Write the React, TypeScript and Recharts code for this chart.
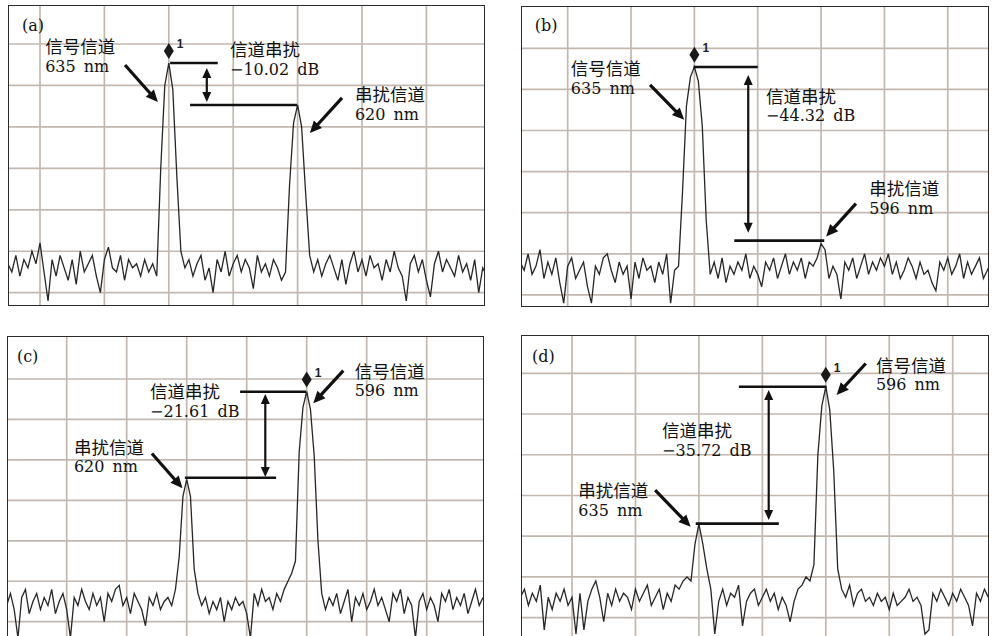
import React from "react";
import {
  LineChart,
  Line,
  XAxis,
  YAxis,
  ReferenceLine,
  ReferenceDot,
} from "recharts";

// x is in screen divisions, y in dB (10 dB / division)
const STEP = 1 / 16;
const gridX = [1, 2, 3, 4, 5, 6, 7];
const gridY = [0, -10, -20, -30, -40, -50, -60];

// (a) signal 635 nm, crosstalk 620 nm
const traceA = [
  -53, -55, -51, -56, -52, -54, -50, -53, -48, -55,
  -62, -52, -56, -51, -54, -57, -52, -58, -50, -55,
  -53, -51, -56, -60, -52, -49, -54, -55, -51, -57,
  -52, -54, -53, -56, -52, -55, -53, -56,
  -30, -10, -4.6, -11, -32,
  -50, -54, -52, -56, -53, -51, -57,
  -54, -60, -52, -55, -50, -56, -53, -51, -55, -52,
  -54, -59, -51, -55, -53, -56, -52, -54, -57, -55,
  -34, -19, -14.7, -20, -36,
  -51, -55, -52, -56, -53,
  -51, -54, -57, -52, -58, -53, -50, -55, -52, -56,
  -51, -54, -53, -57, -52, -55, -50, -54, -56, -62,
  -53, -51, -55, -52, -57, -61, -53, -50, -55, -52,
  -54, -56, -51, -55, -53, -57, -52, -60, -54, -56,
];
const levelsA = [
  { x1: 3.02, x2: 3.76, y: -4.58 },
  { x1: 3.33, x2: 4.99, y: -14.72 },
];
const gapA = { x: 3.59, y1: -5.8, y2: -14.0 };
const arrowsA = [
  { x1: 2.32, y1: -5.07, x2: 2.83, y2: -14.0 },
  { x1: 5.69, y1: -13.0, x2: 5.19, y2: -21.5 },
];
const notesA = [
  { x: 0.72, y: 3.1, lines: ["(a)"] },
  { x: 1.08, y: -2.2, lines: ["信号信道", "635 nm"] },
  { x: 3.95, y: -2.9, lines: ["信道串扰", "−10.02 dB"] },
  { x: 5.89, y: -13.8, lines: ["串扰信道", "620 nm"] },
];

// (b) signal 635 nm, crosstalk 596 nm
const traceB = [
  -52, -54, -50, -55, -53, -49, -56, -52, -55, -51,
  -57, -62, -53, -51, -56, -54, -52, -58, -62, -53,
  -55, -51, -50, -54, -57, -52, -55, -53, -61, -52,
  -56, -51, -54, -53, -57, -52, -55, -50, -62, -54,
  -53, -35, -14, -7, -4.5, -8, -19, -42, -55,
  -52, -56, -51, -57, -53, -55, -52, -54, -50, -56, -53,
  -55, -58, -52, -54, -51, -56, -53, -50, -55, -52,
  -54, -51, -56, -52, -53,
  -51, -47.5, -49, -56,
  -53, -55, -61, -52, -54, -51, -56, -53, -50, -55, -52,
  -54, -51, -53, -50, -55, -52, -56, -54, -51, -53,
  -56, -52, -55, -54, -57, -59, -52, -54, -51, -55,
  -53, -50, -56, -52, -55, -53, -51, -56, -54, -52,
];
const levelsB = [
  { x1: 2.99, x2: 4.0, y: -4.55 },
  { x1: 3.63, x2: 5.05, y: -46.8 },
];
const gapB = { x: 3.85, y1: -6.5, y2: -44.9 };
const arrowsB = [
  { x1: 2.3, y1: -8.9, x2: 2.84, y2: -17.4 },
  { x1: 5.55, y1: -37.8, x2: 5.08, y2: -45.8 },
];
const notesB = [
  { x: 0.48, y: 4.2, lines: ["(b)"] },
  { x: 1.05, y: -6.5, lines: ["信号信道", "635 nm"] },
  { x: 4.13, y: -13.3, lines: ["信道串扰", "−44.32 dB"] },
  { x: 5.76, y: -35.7, lines: ["串扰信道", "596 nm"] },
];

// (c) signal 596 nm, crosstalk 620 nm
const traceC = [
  -56, -53, -57, -64, -54, -52, -58, -55, -53, -57,
  -54, -56, -52, -58, -55, -53, -57, -64, -54, -56,
  -52, -55, -57, -53, -56, -54, -60, -53, -55, -52,
  -51, -56, -54, -58, -53, -55, -57, -61, -54, -56,
  -53, -57, -55, -54, -56,
  -52, -44, -29, -24.8, -29, -47, -53,
  -56, -54, -58, -55, -57, -54, -60, -55,
  -57, -54, -56, -55, -58, -64, -53, -56, -52, -55,
  -54, -57, -53, -55, -52, -50,
  -48, -45, -18, -7, -3.1, -7.5, -19, -40, -53,
  -57, -54, -56, -53, -58,
  -55, -52, -60, -54, -56, -53, -57, -55, -52, -56,
  -54, -57, -60, -53, -55, -52, -58, -54, -56, -64,
  -55, -53, -57, -54, -56, -60, -53, -55, -52, -57,
  -54, -56, -53, -58, -55, -52, -56, -54,
];
const levelsC = [
  { x1: 3.89, x2: 4.99, y: -3.14 },
  { x1: 2.97, x2: 4.49, y: -24.4 },
];
const gapC = { x: 4.31, y1: -3.7, y2: -24.2 };
const arrowsC = [
  { x1: 5.61, y1: 2.05, x2: 5.11, y2: -6.0 },
  { x1: 2.42, y1: -18.4, x2: 2.93, y2: -27.0 },
];
const notesC = [
  { x: 0.17, y: 4.2, lines: ["(c)"] },
  { x: 5.8, y: 0.25, lines: ["信号信道", "596 nm"] },
  { x: 2.39, y: -4.7, lines: ["信道串扰", "−21.61 dB"] },
  { x: 1.12, y: -18.5, lines: ["串扰信道", "620 nm"] },
];

// (d) signal 596 nm, crosstalk 635 nm
const traceD = [
  -55, -53, -57, -54, -56, -52, -63, -55, -58, -54,
  -56, -53, -57, -55, -64, -54, -63, -56, -53, -51,
  -55, -61, -54, -57, -53, -56, -54, -55, -58, -53,
  -56, -54, -52, -57, -55, -53, -58, -54, -56, -52,
  -53, -51, -50,
  -51, -42, -37, -42, -48, -53,
  -64, -56, -53, -57, -54, -55, -52, -62, -56, -54, -53,
  -57, -55, -53, -56, -54, -58, -55, -57, -61, -56,
  -53, -52, -50,
  -51, -47, -20, -8, -3.3, -9, -24, -48, -53,
  -55, -52, -57, -54, -53, -56, -55, -57,
  -54, -56, -55, -58, -54, -57, -56, -55, -53, -56,
  -55, -57, -64, -63, -54, -56, -53, -55, -57, -54,
  -56, -53, -55, -57, -62, -54, -56, -53, -55, -54,
];
const levelsD = [
  { x1: 3.63, x2: 5.01, y: -3.29 },
  { x1: 2.95, x2: 4.26, y: -36.9 },
];
const gapD = { x: 4.1, y1: -4.1, y2: -36.0 };
const arrowsD = [
  { x1: 5.63, y1: 2.4, x2: 5.17, y2: -5.3 },
  { x1: 2.31, y1: -28.7, x2: 2.87, y2: -37.7 },
];
const notesD = [
  { x: 0.37, y: 2.8, lines: ["(d)"] },
  { x: 5.79, y: 0.4, lines: ["信号信道", "596 nm"] },
  { x: 2.42, y: -15.7, lines: ["信道串扰", "−35.72 dB"] },
  { x: 1.1, y: -30.4, lines: ["串扰信道", "635 nm"] },
];

const panels = [
  { key: "a", left: 8, top: 5, width: 477, height: 301, start: 0.5, xDomain: [0.503, 7.91], yDomain: [-63.21, 9.41], trace: traceA, levels: levelsA, gap: gapA, arrows: arrowsA, notes: notesA },
  { key: "b", left: 521, top: 6, width: 468, height: 301, start: 0.25, xDomain: [0.263, 7.651], yDomain: [-62.94, 10.29], trace: traceB, levels: levelsB, gap: gapB, arrows: arrowsB, notes: notesB },
  { key: "c", left: 7, top: 336, width: 477, height: 304, start: 0, xDomain: [0.005, 7.955], yDomain: [-64.52, 10.63], trace: traceC, levels: levelsC, gap: gapC, arrows: arrowsC, notes: notesC },
  { key: "d", left: 521, top: 335, width: 468, height: 305, start: 0.1875, xDomain: [0.196, 7.572], yDomain: [-65.48, 9.4], trace: traceD, levels: levelsD, gap: gapD, arrows: arrowsD, notes: notesD },
];

const INK = "#111";
const GRID = "#c2b8b0";
const CJK = "'Noto Sans CJK SC', sans-serif";
const SERIF = "'DejaVu Serif', serif";

function head(x: number, y: number, ux: number, uy: number, len: number, half: number) {
  const bx = x - ux * len;
  const by = y - uy * len;
  return `${x},${y} ${bx - uy * half},${by + ux * half} ${bx + uy * half},${by - ux * half}`;
}

const Arrow = (props: any) => {
  const { x1, y1, x2, y2 } = props;
  const len = Math.hypot(x2 - x1, y2 - y1) || 1;
  const ux = (x2 - x1) / len;
  const uy = (y2 - y1) / len;
  return (
    <g>
      <line x1={x1} y1={y1} x2={x2 - ux * 9} y2={y2 - uy * 9} stroke={INK} strokeWidth={3.2} />
      <polygon points={head(x2, y2, ux, uy, 12, 5.5)} fill={INK} />
    </g>
  );
};

const DoubleArrow = (props: any) => {
  const { x1, y1, x2, y2 } = props;
  const len = Math.hypot(x2 - x1, y2 - y1) || 1;
  const ux = (x2 - x1) / len;
  const uy = (y2 - y1) / len;
  return (
    <g>
      <line x1={x1 + ux * 6} y1={y1 + uy * 6} x2={x2 - ux * 6} y2={y2 - uy * 6} stroke={INK} strokeWidth={2.2} />
      <polygon points={head(x2, y2, ux, uy, 10, 4.5)} fill={INK} />
      <polygon points={head(x1, y1, -ux, -uy, 10, 4.5)} fill={INK} />
    </g>
  );
};

const Level = (props: any) => (
  <line x1={props.x1} y1={props.y1} x2={props.x2} y2={props.y2} stroke={INK} strokeWidth={2.6} />
);

const GridLine = (props: any) => (
  <line x1={props.x1} y1={props.y1} x2={props.x2} y2={props.y2} stroke={GRID} strokeWidth={1.7} />
);

const Marker = (props: any) => {
  const { cx, cy } = props;
  return (
    <g>
      <polygon
        points={`${cx},${cy - 20} ${cx + 5},${cy - 12} ${cx},${cy - 4} ${cx - 5},${cy - 12}`}
        fill="#1a1a1a"
      />
      <text x={cx + 8} y={cy - 15} fontSize={12} fontWeight="bold" fontFamily="'Liberation Sans', Arial, sans-serif" fill="#222">
        1
      </text>
    </g>
  );
};

const noteShape = (lines: string[]) => (props: any) => {
  const { cx, cy } = props;
  if (lines.length === 1) {
    return (
      <text x={cx} y={cy} fontSize={16} fontFamily={SERIF} fill={INK}>
        {lines[0]}
      </text>
    );
  }
  return (
    <g>
      <text x={cx} y={cy} fontSize={17.5} fontFamily={CJK} fill={INK}>
        {lines[0]}
      </text>
      <text x={cx} y={cy + 18.5} fontSize={16} fontFamily={SERIF} fill={INK} wordSpacing={3}>
        {lines[1]}
      </text>
    </g>
  );
};

function Panel({ p }: { p: (typeof panels)[number] }) {
  const data = p.trace.map((v, i) => ({ x: p.start + i * STEP, y: v }));
  let peak = data[0];
  for (const d of data) if (d.y > peak.y) peak = d;
  return (
    <div
      style={{
        position: "absolute",
        left: p.left,
        top: p.top,
        width: p.width,
        height: p.height,
        background: "#fff",
      }}
    >
      <LineChart width={p.width} height={p.height} data={data} margin={{ top: 0, right: 0, bottom: 0, left: 0 }}>
        <XAxis type="number" dataKey="x" domain={p.xDomain} allowDataOverflow hide />
        <YAxis type="number" domain={p.yDomain} allowDataOverflow hide />
        {gridX.map((g) => (
          <ReferenceLine key={"gx" + g} x={g} shape={GridLine} />
        ))}
        {gridY.map((g) => (
          <ReferenceLine key={"gy" + g} y={g} shape={GridLine} />
        ))}
        <Line
          type="linear"
          dataKey="y"
          stroke="#262626"
          strokeWidth={1.3}
          dot={false}
          isAnimationActive={false}
        />
        {p.levels.map((l, i) => (
          <ReferenceLine
            key={"l" + i}
            segment={[{ x: l.x1, y: l.y }, { x: l.x2, y: l.y }]}
            shape={Level}
            ifOverflow="visible"
          />
        ))}
        <ReferenceLine
          segment={[{ x: p.gap.x, y: p.gap.y1 }, { x: p.gap.x, y: p.gap.y2 }]}
          shape={DoubleArrow}
          ifOverflow="visible"
        />
        {p.arrows.map((a, i) => (
          <ReferenceLine
            key={"a" + i}
            segment={[{ x: a.x1, y: a.y1 }, { x: a.x2, y: a.y2 }]}
            shape={Arrow}
            ifOverflow="visible"
          />
        ))}
        <ReferenceDot x={peak.x} y={peak.y} shape={Marker} ifOverflow="visible" />
        {p.notes.map((n, i) => (
          <ReferenceDot key={"n" + i} x={n.x} y={n.y} shape={noteShape(n.lines)} ifOverflow="visible" />
        ))}
      </LineChart>
      <div
        style={{
          position: "absolute",
          inset: 0,
          border: "1.5px solid #2a2a2a",
          boxSizing: "border-box",
          pointerEvents: "none",
        }}
      />
    </div>
  );
}

export default function App() {
  return (
    <div
      style={{
        position: "absolute",
        left: 0,
        top: 0,
        width: 992,
        height: 636,
        overflow: "hidden",
        background: "#fff",
      }}
    >
      {panels.map((p) => (
        <Panel key={p.key} p={p} />
      ))}
    </div>
  );
}
